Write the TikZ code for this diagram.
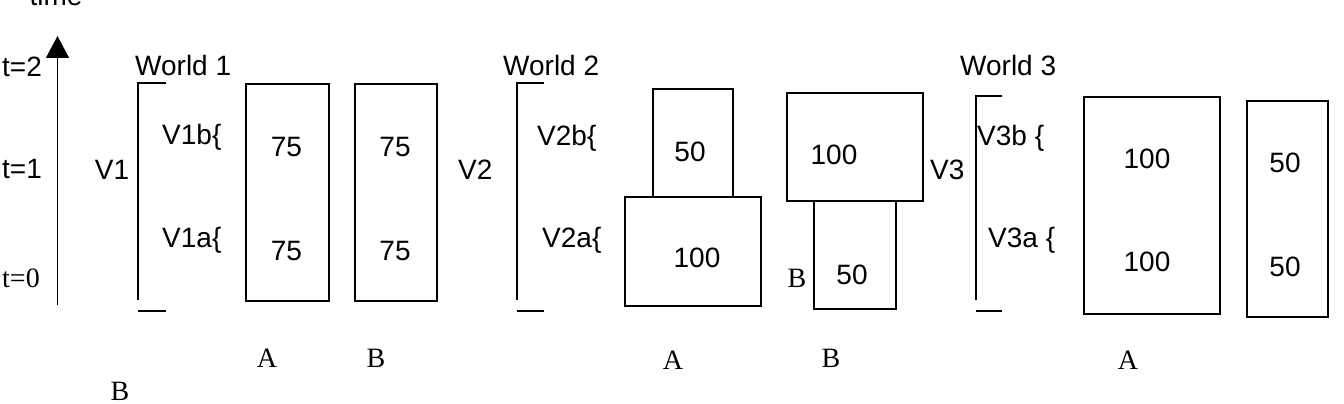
\documentclass[tikz,border=0pt]{standalone}
\usepackage{fontspec}
\setmainfont{Liberation Serif}
\setsansfont{Liberation Sans}
\usetikzlibrary{arrows.meta}
\begin{document}
\begin{tikzpicture}[x=1pt,y=-1pt,
  lbl/.style={font=\sffamily\fontsize{28}{33}\selectfont, inner sep=0pt},
  slbl/.style={font=\rmfamily\fontsize{28}{33}\selectfont, inner sep=0pt},
  box/.style={draw, line width=1.6pt, anchor=north west, inner sep=0pt},
  ln/.style={line width=1.6pt}]
\useasboundingbox (0,0) rectangle (1344,404);
% time axis
\node[lbl, anchor=base] (time) at (56,6) {time};
\coordinate (ax0) at (57.5,305);
\coordinate (ax1) at (57.5,36);
\draw[ln, -{Triangle[width=23pt,length=22pt]}] (ax0) -- (ax1);
\node[lbl, anchor=west] (t2) at (2,67) {t=2};
\node[lbl, anchor=west] (t1) at (2,169) {t=1};
\node[slbl, anchor=west] (t0) at (2,278) {t=0};
% World 1
\node[lbl, anchor=west] (w1) at (135,65) {World 1};
\node[lbl] (v1) at (112,170) {V1};
\draw[ln] (166,83) -- (138,83) -- (138,300);
\draw[ln] (138,311) -- (166,311);
\node[lbl, anchor=west] (v1b) at (162,137) {V1b\{};
\node[lbl, anchor=west] (v1a) at (162,240) {V1a\{};
\node[box, minimum width=83pt, minimum height=217pt] (b1a) at (245,83) {};
\node[box, minimum width=82pt, minimum height=217pt] (b1b) at (354,83) {};
\node[lbl] at (286.5,147) {75};
\node[lbl] at (395,147) {75};
\node[lbl] at (286.5,251) {75};
\node[lbl] at (395,251) {75};
\node[slbl] (a1) at (267,358) {A};
\node[slbl] (bb1) at (376,358) {B};
\node[slbl] (bleft) at (120,391) {B};
% World 2
\node[lbl, anchor=west] (w2) at (503,65) {World 2};
\node[lbl, anchor=west] (v2) at (458,170) {V2};
\draw[ln] (544,83) -- (517,83) -- (517,300);
\draw[ln] (517,311) -- (544,311);
\node[lbl, anchor=west] (v2b) at (537,138) {V2b\{};
\node[lbl, anchor=west] (v2a) at (542,240) {V2a\{};
\node[box, minimum width=80pt, minimum height=108pt] (b2top) at (652,88) {};
\node[box, minimum width=136pt, minimum height=109pt] (b2bot) at (624,196) {};
\node[lbl] at (690,152) {50};
\node[lbl] at (697,258) {100};
\node[slbl] (a2) at (673,360) {A};
\node[box, minimum width=136pt, minimum height=108pt] (b3top) at (786,92) {};
\node[box, minimum width=82pt, minimum height=108pt] (b3bot) at (813,200) {};
\node[lbl] at (834,155) {100};
\node[lbl] at (852,275) {50};
\node[slbl] (bin) at (797,278) {B};
\node[slbl] (bb2) at (831,358) {B};
% World 3
\node[lbl, anchor=west] (w3) at (960,65) {World 3};
\node[lbl, anchor=west] (v3) at (930,170) {V3};
\draw[ln] (1002,96) -- (976,96) -- (976,300);
\draw[ln] (976,311) -- (1002,311);
\node[lbl, anchor=west] (v3b) at (977,138) {V3b \{};
\node[lbl, anchor=west] (v3a) at (988,240) {V3a \{};
\node[box, minimum width=136pt, minimum height=217pt] (b4a) at (1083,96) {};
\node[box, minimum width=81pt, minimum height=216pt] (b4b) at (1246,100) {};
\node[lbl] at (1147,159) {100};
\node[lbl] at (1147,262) {100};
\node[lbl] at (1285,163) {50};
\node[lbl] at (1285,267) {50};
\node[slbl] (a3) at (1128,360) {A};
\end{tikzpicture}
\end{document}
